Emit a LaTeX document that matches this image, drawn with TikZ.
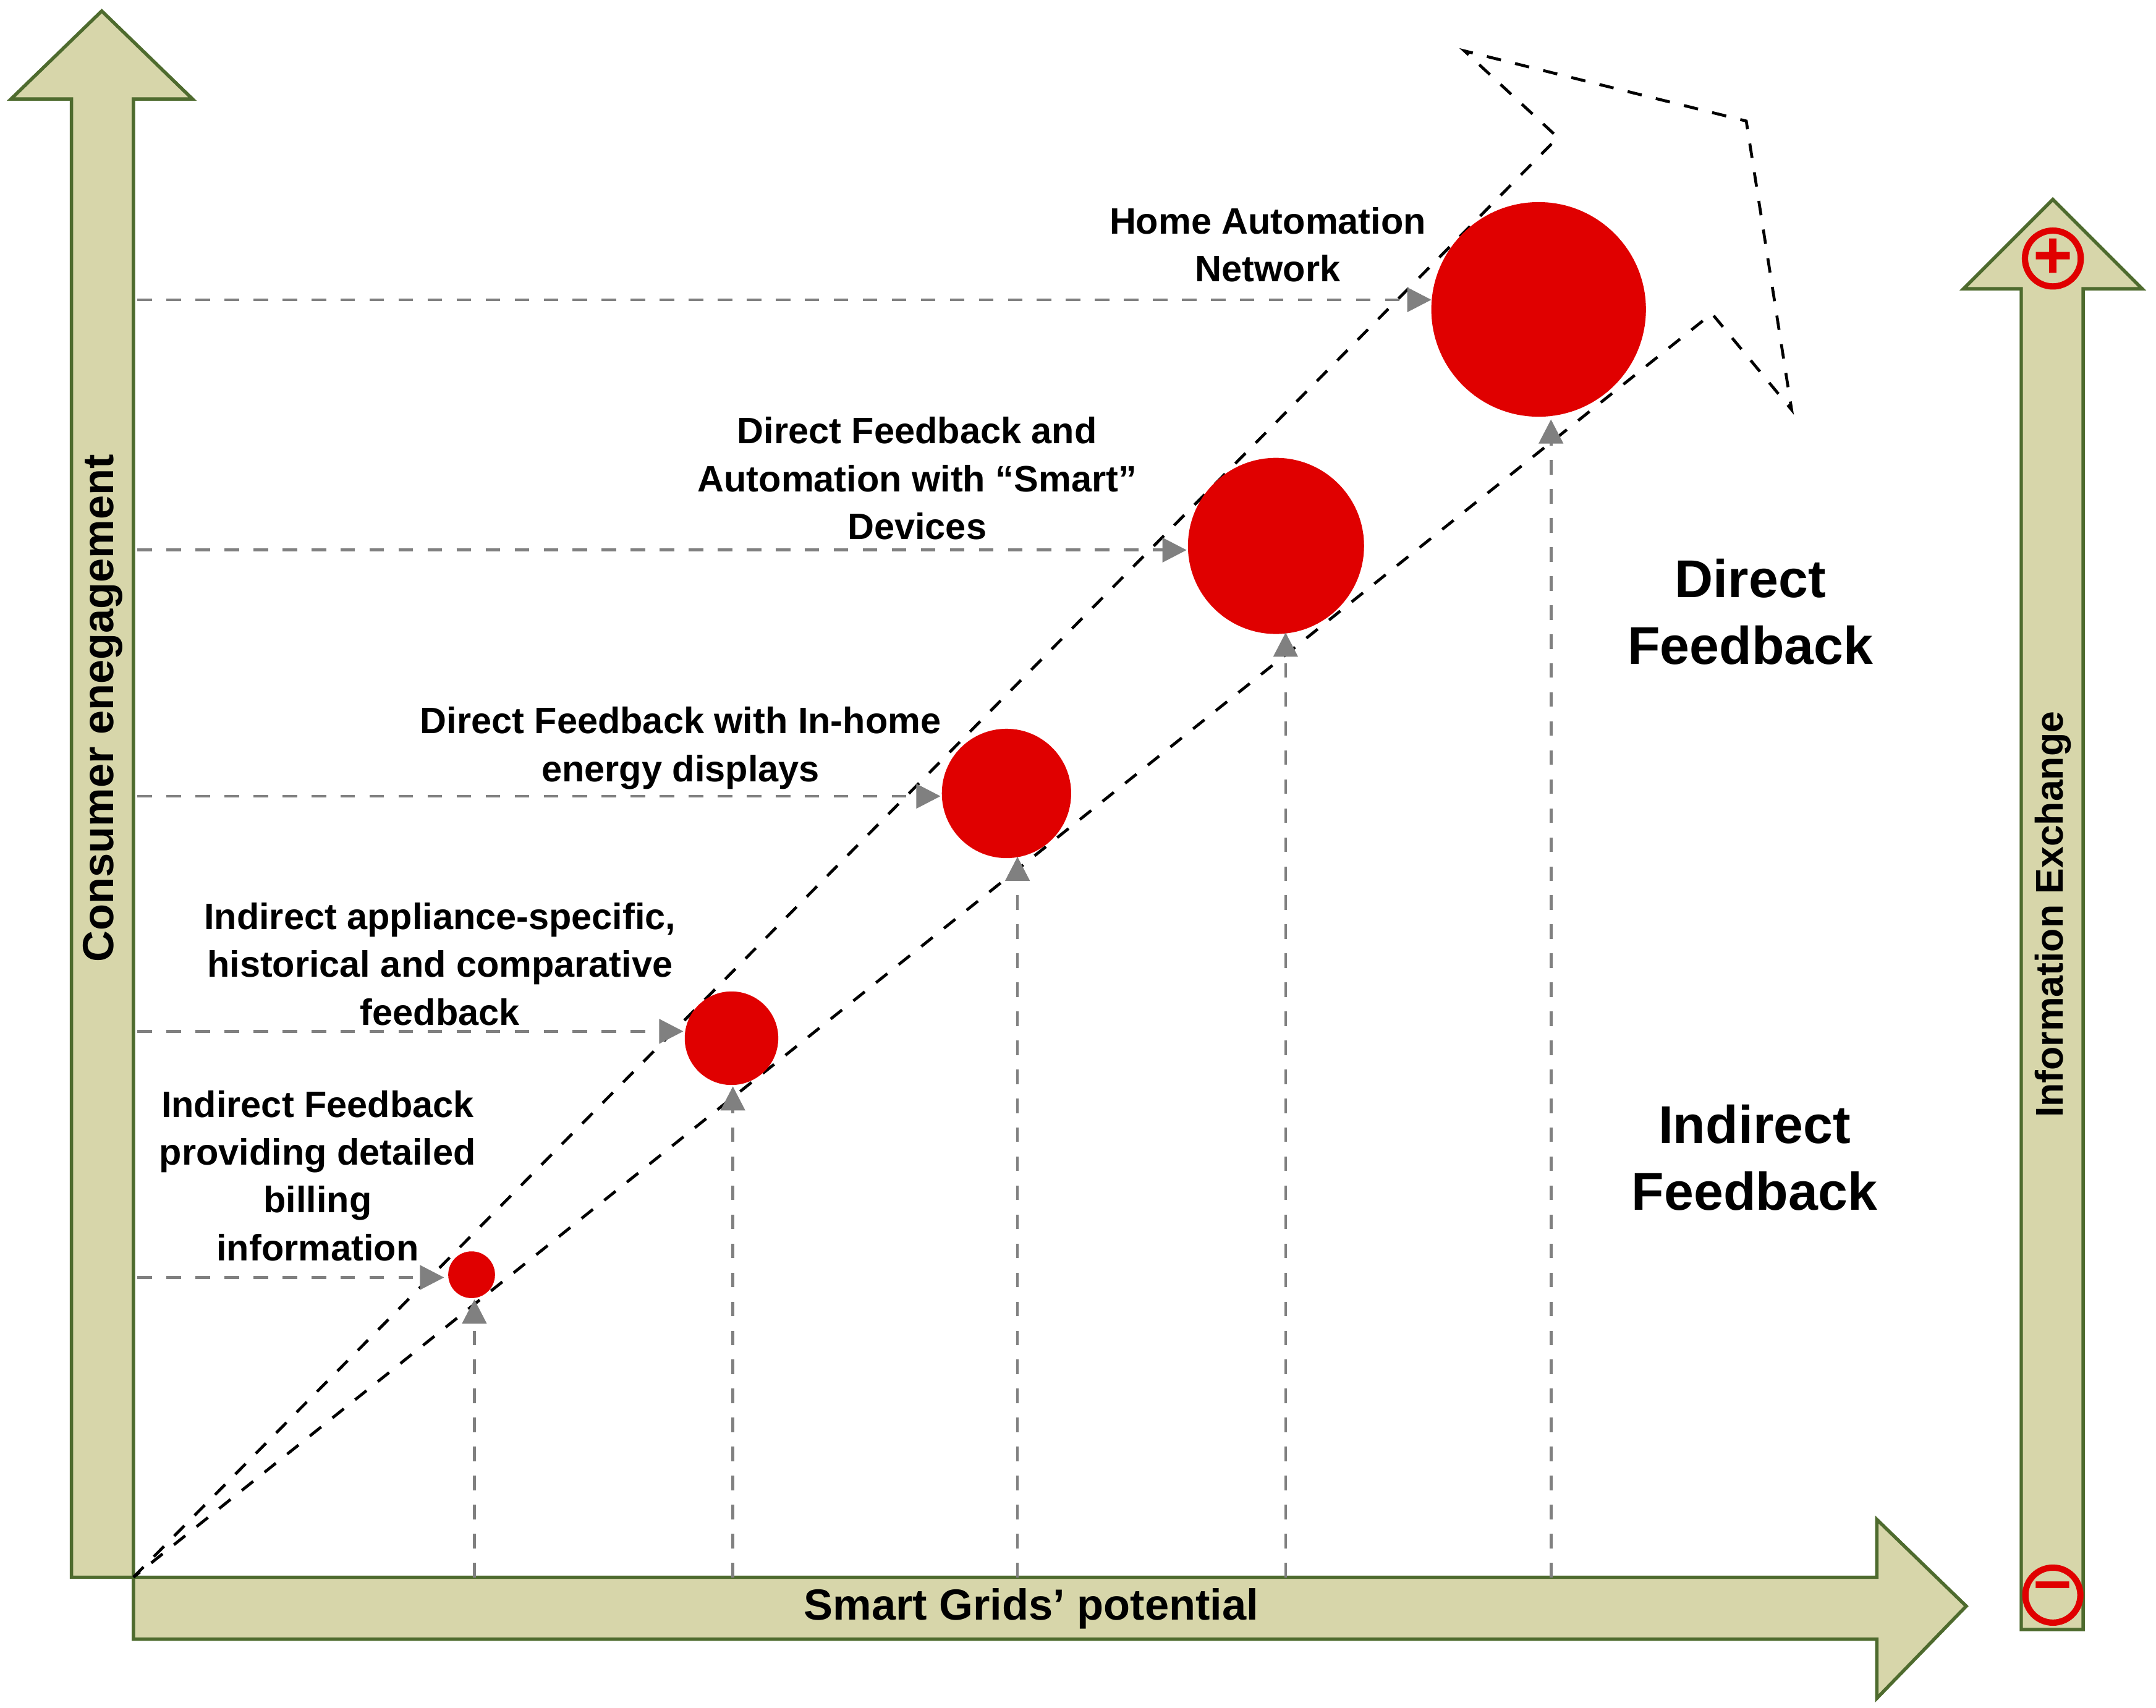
\documentclass[tikz,border=0pt]{standalone}
\usepackage{fontspec}
\setmainfont{Liberation Sans}
\usetikzlibrary{arrows.meta}
\definecolor{khaki}{HTML}{D7D6AA}
\definecolor{kborder}{HTML}{4E6B2E}
\definecolor{dotred}{HTML}{E00000}
\tikzset{
 bigarrow/.style={fill=khaki,draw=kborder,line width=0.7pt},
 dot/.style={circle,fill=dotred,inner sep=0pt},
 guide/.style={dashed,draw=gray,line width=0.6pt,-{Triangle[length=5pt,width=5pt]},gray},
 lbl/.style={font=\bfseries\fontsize{7.6}{9.9}\selectfont,align=center},
 biglbl/.style={font=\bfseries\fontsize{11}{13.8}\selectfont,align=center},
 axislbl/.style={font=\bfseries\fontsize{9}{11}\selectfont},
 pm/.style={circle,draw=dotred,line width=1.3pt,minimum size=0.4cm,inner sep=0pt,text=dotred,font=\bfseries\fontsize{14}{14}\selectfont}
}
\begin{document}
\begin{tikzpicture}[x=0.01cm,y=-0.01cm]
\useasboundingbox (0,0) rectangle (1568,1242);
% left arrow
\draw[bigarrow] (52,1147) -- (52,72) -- (8,72) -- (74,8) -- (140,72) -- (97,72) -- (97,1147) -- cycle;
\node[axislbl,rotate=90] (ylab) at (75,515) {Consumer enegagement};
% bottom arrow
\draw[bigarrow] (97,1147) -- (1365,1147) -- (1365,1105) -- (1430,1168) -- (1365,1235) -- (1365,1192) -- (97,1192) -- cycle;
\node[axislbl] (xlab) at (750,1170) {Smart Grids’ potential};
% right arrow
\draw[bigarrow] (1470,1185) -- (1470,210) -- (1428,210) -- (1493,145) -- (1558,210) -- (1515,210) -- (1515,1185) -- cycle;
\node[font=\bfseries\fontsize{8}{10}\selectfont,rotate=90] (rlab) at (1493,665) {Information Exchange};
\node[pm] (plus) at (1493,188) {+};
\node[pm] (minus) at (1493,1160) {\raisebox{1pt}{--}};
% dashed big arrow
\coordinate (o) at (97,1147);
\draw[dashed,line width=0.6pt] (o) -- (1133,100) -- (1065,37) -- (1270,88) -- (1303,298) -- (1245,228) -- cycle;
% dots
\node[dot,minimum size=0.34cm] (c1) at (343,927) {};
\node[dot,minimum size=0.68cm] (c2) at (532,755) {};
\node[dot,minimum size=0.94cm] (c3) at (732,577) {};
\node[dot,minimum size=1.28cm] (c4) at (928,397) {};
\node[dot,minimum size=1.56cm] (c5) at (1119,225) {};
% horizontal guides
\foreach \y/\c in {929/c1,750/c2,579/c3,400/c4,218/c5}{
  \coordinate (h\c) at (100,\y);
}
\draw[guide] (hc1) -- (323,929);
\draw[guide] (hc2) -- (497,750);
\draw[guide] (hc3) -- (684,579);
\draw[guide] (hc4) -- (863,400);
\draw[guide] (hc5) -- (1041,218);
% vertical guides
\coordinate (v1) at (345,1147);
\coordinate (v2) at (533,1147);
\coordinate (v3) at (740,1147);
\coordinate (v4) at (935,1147);
\coordinate (v5) at (1128,1147);
\draw[guide] (v1) -- (345,945);
\draw[guide] (v2) -- (533,790);
\draw[guide] (v3) -- (740,623);
\draw[guide] (v4) -- (935,460);
\draw[guide] (v5) -- (1128,305);
% labels
\node[lbl] (l5) at (922,178) {Home Automation\\Network};
\node[lbl] (l4) at (667,348) {Direct Feedback and\\Automation with “Smart”\\Devices};
\node[lbl] (l3) at (495,544) {Direct Feedback with In-home\\energy displays};
\node[lbl] (l2) at (320,701) {Indirect appliance-specific,\\historical and comparative\\feedback};
\node[lbl] (l1) at (231,855) {Indirect Feedback\\providing detailed\\billing\\information};
\node[biglbl] (df) at (1273,445) {Direct\\Feedback};
\node[biglbl] (if) at (1276,842) {Indirect\\Feedback};
\end{tikzpicture}
\end{document}
